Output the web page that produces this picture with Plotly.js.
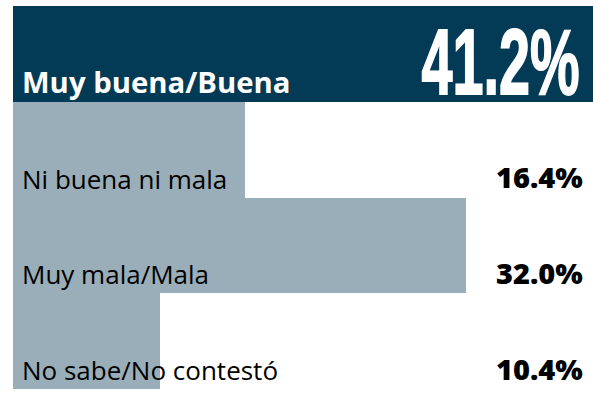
<!DOCTYPE html>
<html>
<head>
<meta charset="utf-8">
<script src="https://cdn.plot.ly/plotly-3.0.1.min.js"></script>
<style>
html,body{margin:0;padding:0;background:#fff;}
#chart{width:593px;height:402px;}
/* condensed headline number */
#chart .annotation[data-index="7"] text{
  transform-box: fill-box;
  transform-origin: 100% 50%;
  transform: scaleX(0.6);
  stroke: #ffffff;
  stroke-width: 1.8px;
  stroke-linejoin: miter;
}
</style>
</head>
<body>
<div id="chart"></div>
<script>
const categories = ["Muy buena/Buena", "Ni buena ni mala", "Muy mala/Mala", "No sabe/No contestó"];
const values = [41.2, 16.4, 32.0, 10.4];
const valueLabels = ["41.2%", "16.4%", "32.0%", "10.4%"];
const barColors = ["#033a56", "#9aaeb9", "#9aaeb9", "#9aaeb9"];

const labelFont = "Open Sans, Noto Sans, sans-serif";
const annotations = [];
categories.forEach((c, i) => {
  const first = i === 0;
  annotations.push({
    x: 0, xref: 'x', xanchor: 'left', xshift: 7,
    y: c, yref: 'y', yanchor: 'middle', yshift: first ? -28.5 : -29,
    text: first ? '<b>' + c + '</b>' : c,
    showarrow: false,
    font: {family: labelFont, size: first ? 29.3 : 26, color: first ? '#ffffff' : '#000000'}
  });
});
categories.forEach((c, i) => {
  if (i === 0) return;
  annotations.push({
    x: 1, xref: 'paper', xanchor: 'right', xshift: -8,
    y: c, yref: 'y', yanchor: 'middle', yshift: -27,
    text: valueLabels[i],
    showarrow: false,
    font: {family: labelFont, size: 29, weight: 800, color: '#000000'}
  });
});
// headline value (last annotation, index 7)
annotations.push({
  x: 1, xref: 'paper', xanchor: 'right', xshift: -11,
  y: categories[0], yref: 'y', yanchor: 'middle', yshift: -8,
  text: '<b>' + valueLabels[0] + '</b>',
  showarrow: false,
  font: {family: "Liberation Sans, Arial, sans-serif", size: 93, color: '#ffffff'}
});

const data = [{
  type: 'bar',
  orientation: 'h',
  y: categories,
  x: values,
  marker: {color: barColors, line: {width: 0}},
  hoverinfo: 'none'
}];

const layout = {
  width: 593, height: 402,
  margin: {l: 13, r: 0, t: 5.5, b: 13, pad: 0},
  paper_bgcolor: '#ffffff',
  plot_bgcolor: '#ffffff',
  bargap: 0,
  showlegend: false,
  xaxis: {range: [0, 40.95], visible: false, fixedrange: true},
  yaxis: {range: [3.5, -0.5], autorange: false, visible: false, fixedrange: true},
  annotations: annotations
};

Plotly.newPlot('chart', data, layout, {displayModeBar: false, staticPlot: true});
</script>
</body>
</html>
